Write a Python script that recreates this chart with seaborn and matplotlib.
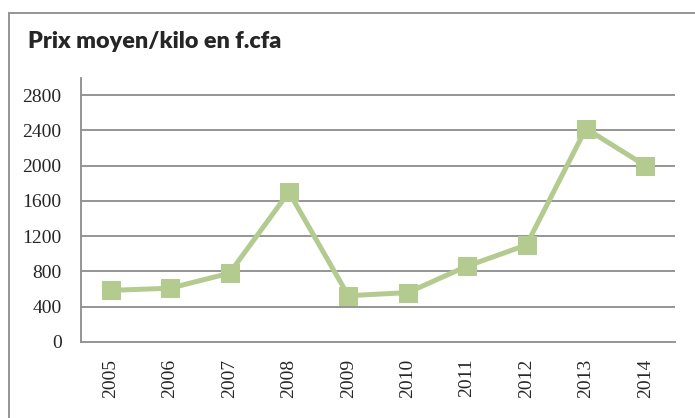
import matplotlib
matplotlib.use("Agg")
import matplotlib.pyplot as plt
import seaborn as sns
import pandas as pd
import numpy as np
from matplotlib.lines import Line2D

# data
years = ["2005", "2006", "2007", "2008", "2009", "2010", "2011", "2012", "2013", "2014"]
prix = [585, 610, 780, 1700, 525, 560, 860, 1100, 2420, 2000]
y_ticks = [0, 400, 800, 1200, 1600, 2000, 2400, 2800]

df = pd.DataFrame({"pos": np.arange(len(years)), "prix": prix})

sns.set_style("white")
plt.rcParams["font.family"] = ["Liberation Serif", "DejaVu Serif"]

fig = plt.figure(figsize=(6.95, 4.18), dpi=100)
ax = fig.add_axes([81 / 695, 1 - 342 / 418, 594 / 695, 264 / 418])

green = "#B4CB8F"
sns.lineplot(data=df, x="pos", y="prix", ax=ax, color=green, linewidth=3.6,
             marker="s", markersize=13.5, markeredgecolor=green, markerfacecolor=green)

# gridlines
for v in y_ticks[1:]:
    ax.axhline(v, color="#8c8c8c", linewidth=1.3, zorder=0)

ax.set_xlim(-0.5, len(years) - 0.5)
ax.set_ylim(0, 2993)
ax.set_yticks(y_ticks)
ax.set_yticklabels([str(v) for v in y_ticks], fontsize=14)

# ticks between categories, labels in the middle
ax.set_xticks(np.arange(len(years) + 1) - 0.5)
ax.set_xticklabels([])
ax.set_xticks(np.arange(len(years)), minor=True)
ax.set_xticklabels(years, minor=True, rotation=90, fontsize=14)
ax.tick_params(axis="x", which="major", length=6, width=1.3, color="#8c8c8c", direction="out")
ax.tick_params(axis="x", which="minor", length=0, pad=12)
ax.tick_params(axis="y", length=6, width=1.3, color="#8c8c8c", direction="out", pad=8)

for s in ["top", "right"]:
    ax.spines[s].set_visible(False)
for s in ["left", "bottom"]:
    ax.spines[s].set_color("#8c8c8c")
    ax.spines[s].set_linewidth(1.3)

ax.set_xlabel("")
ax.set_ylabel("")

# chart frame (left and top edges visible)
fig.add_artist(Line2D([9 / 695, 9 / 695], [0, 1 - 13 / 418], transform=fig.transFigure,
                      color="#8c8c8c", linewidth=1.3))
fig.add_artist(Line2D([9 / 695, 1], [1 - 13 / 418, 1 - 13 / 418], transform=fig.transFigure,
                      color="#8c8c8c", linewidth=1.3))

fig.text(28 / 695, 1 - 41 / 418, "Prix moyen/kilo en f.cfa", fontsize=16.8,
         fontweight="heavy", family=["Lato", "DejaVu Sans"], va="center", ha="left")

fig.savefig("out.png", dpi=100, facecolor="white")
